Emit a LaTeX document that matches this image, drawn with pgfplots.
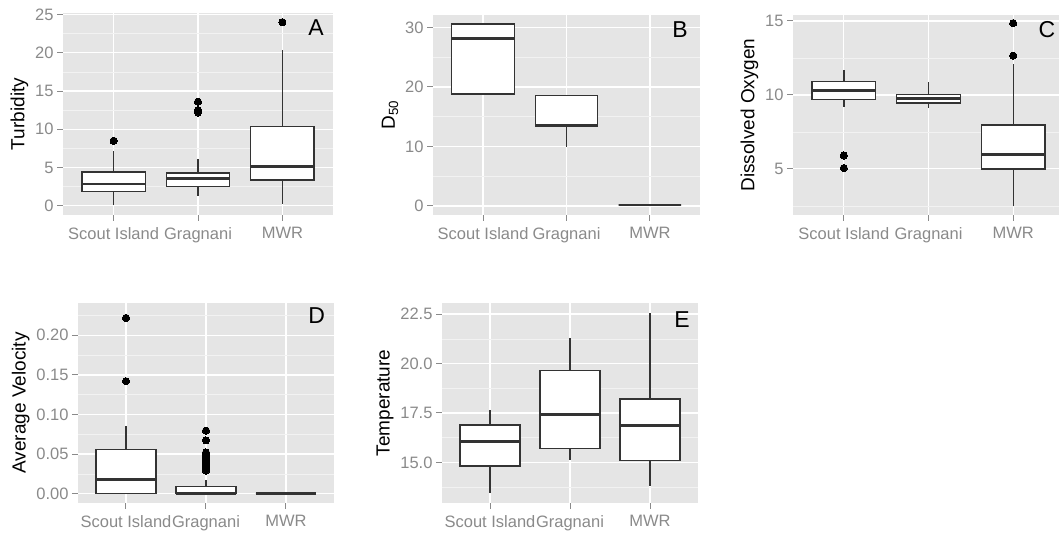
\documentclass[border=0pt]{standalone}
\usepackage{fontspec}
\setmainfont{Liberation Sans}
\usepackage{pgfplots}
\pgfplotsset{compat=1.18}
\usepgfplotslibrary{statistics}
\definecolor{ggbg}{HTML}{E5E5E5}
\definecolor{ggminor}{HTML}{F2F2F2}
\definecolor{tickgray}{HTML}{8A8A8A}
\definecolor{boxline}{HTML}{333333}
\tikzset{letter/.style={font=\fontsize{23}{25}\selectfont, color=black}}
\pgfplotsset{
  ggbox/.style={
    scale only axis,
    xmin=0.4, xmax=3.6,
    xtick={1,2,3}, xticklabels={Scout Island,Gragnani,MWR},
    axis background/.style={fill=ggbg},
    axis line style={draw=none},
    tick pos=left, tick align=outside,
    major tick length=6pt, minor tick length=0pt,
    tick style={color=tickgray, line width=1pt},
    xmajorgrids, ymajorgrids, yminorgrids,
    major grid style={white, line width=1.3pt},
    minor grid style={ggminor, line width=0.6pt},
    tick label style={font=\fontsize{16.5}{18}\selectfont, color=tickgray},
    xticklabel style={yshift=-3pt},
    label style={font=\fontsize{19}{22}\selectfont, color=black},
    /pgf/number format/assume math mode=true,
    boxplot/draw direction=y,
    boxplot/box extend=0.75,
    boxplot/whisker extend=0,
    boxplot/every box/.style={draw=boxline, fill=white, line width=1.4pt},
    boxplot/every whisker/.style={draw=boxline, line width=1.4pt},
    boxplot/every median/.style={draw=boxline, line width=2.7pt},
  },
  bx/.style={draw=boxline, mark=*, mark size=3.6pt, mark options={fill=black, draw=black, solid, line width=0pt}},
}
\begin{document}
\begin{tikzpicture}
% ---------- A ----------
\begin{axis}[ggbox, at={(63pt,319pt)}, anchor=south west, width=270pt, height=202pt,
  ymin=-1.2, ymax=25.2, ytick={0,5,10,15,20,25}, minor ytick={2.5,7.5,12.5,17.5,22.5},
  ylabel={Turbidity}]
\addplot[bx, boxplot prepared={lower whisker=0.1, lower quartile=1.85, median=2.85, upper quartile=4.4, upper whisker=7.2, draw position=1}] coordinates {(0,8.5)};
\addplot[bx, boxplot prepared={lower whisker=1.3, lower quartile=2.55, median=3.6, upper quartile=4.3, upper whisker=6.1, draw position=2}] coordinates {(0,12.2) (0,12.5) (0,13.6)};
\addplot[bx, boxplot prepared={lower whisker=0.2, lower quartile=3.35, median=5.1, upper quartile=10.4, upper whisker=20.4, draw position=3}] coordinates {(0,24)};
\node[letter] at (rel axis cs:0.937,0.93) {A};
\end{axis}
% ---------- B ----------
\begin{axis}[ggbox, at={(433pt,319pt)}, anchor=south west, width=267pt, height=200pt,
  ymin=-1.53, ymax=32.1, ytick={0,10,20,30}, minor ytick={5,15,25},
  ylabel={D\textsubscript{50}}]
\addplot[bx, boxplot prepared={lower whisker=18.8, lower quartile=18.8, median=28.2, upper quartile=30.6, upper whisker=30.6, draw position=1}] coordinates {};
\addplot[bx, boxplot prepared={lower whisker=9.9, lower quartile=13.4, median=13.55, upper quartile=18.6, upper whisker=18.6, draw position=2}] coordinates {};
\addplot[bx, boxplot prepared={lower whisker=0.15, lower quartile=0.15, median=0.15, upper quartile=0.15, upper whisker=0.15, draw position=3}] coordinates {};
\node[letter] at (rel axis cs:0.925,0.925) {B};
\end{axis}
% ---------- C ----------
\begin{axis}[ggbox, at={(793pt,319pt)}, anchor=south west, width=271pt, height=200pt,
  ymin=1.88, ymax=15.4, ytick={5,10,15}, minor ytick={2.5,7.5,12.5},
  ylabel={Dissolved Oxygen}]
\addplot[bx, boxplot prepared={lower whisker=9.2, lower quartile=9.7, median=10.3, upper quartile=10.9, upper whisker=11.65, draw position=1}] coordinates {(0,5.9) (0,5.05)};
\addplot[bx, boxplot prepared={lower whisker=9.1, lower quartile=9.45, median=9.75, upper quartile=10.03, upper whisker=10.85, draw position=2}] coordinates {};
\addplot[bx, boxplot prepared={lower whisker=2.5, lower quartile=5.0, median=5.95, upper quartile=7.95, upper whisker=12.1, draw position=3}] coordinates {(0,12.65) (0,14.85)};
\node[letter] at (rel axis cs:0.937,0.925) {C};
\end{axis}
% ---------- D ----------
\begin{axis}[ggbox, at={(78pt,31pt)}, anchor=south west, width=256pt, height=200pt,
  ymin=-0.0118, ymax=0.2408, ytick={0,0.05,0.10,0.15,0.20}, minor ytick={0.025,0.075,0.125,0.175,0.225},
  yticklabel style={/pgf/number format/.cd, fixed, fixed zerofill, precision=2},
  ylabel={Average Velocity}]
\addplot[bx, boxplot prepared={lower whisker=0, lower quartile=0, median=0.0177, upper quartile=0.0556, upper whisker=0.085, draw position=1}] coordinates {(0,0.142) (0,0.222)};
\addplot[bx, boxplot prepared={lower whisker=0, lower quartile=0, median=0.0005, upper quartile=0.0093, upper whisker=0.0168, draw position=2}] coordinates {(0,0.029) (0,0.031) (0,0.033) (0,0.035) (0,0.037) (0,0.040) (0,0.043) (0,0.046) (0,0.049) (0,0.052) (0,0.0673) (0,0.0796)};
\addplot[bx, boxplot prepared={lower whisker=0, lower quartile=0, median=0, upper quartile=0, upper whisker=0, draw position=3}] coordinates {};
\node[letter] at (rel axis cs:0.932,0.938) {D};
\end{axis}
% ---------- E ----------
\begin{axis}[ggbox, at={(442pt,31pt)}, anchor=south west, width=256pt, height=200pt,
  ymin=12.95, ymax=23.06, ytick={15,17.5,20,22.5}, minor ytick={13.75,16.25,18.75,21.25},
  yticklabel style={/pgf/number format/.cd, fixed, fixed zerofill, precision=1},
  ylabel={Temperature}]
\addplot[bx, boxplot prepared={lower whisker=13.45, lower quartile=14.83, median=16.06, upper quartile=16.9, upper whisker=17.66, draw position=1}] coordinates {};
\addplot[bx, boxplot prepared={lower whisker=15.1, lower quartile=15.69, median=17.41, upper quartile=19.64, upper whisker=21.3, draw position=2}] coordinates {};
\addplot[bx, boxplot prepared={lower whisker=13.82, lower quartile=15.1, median=16.86, upper quartile=18.2, upper whisker=22.55, draw position=3}] coordinates {};
\node[letter] at (rel axis cs:0.9375,0.917) {E};
\end{axis}
\pgfresetboundingbox
\path[use as bounding box] (0,0) rectangle (1059pt,534pt);
\end{tikzpicture}
\end{document}
